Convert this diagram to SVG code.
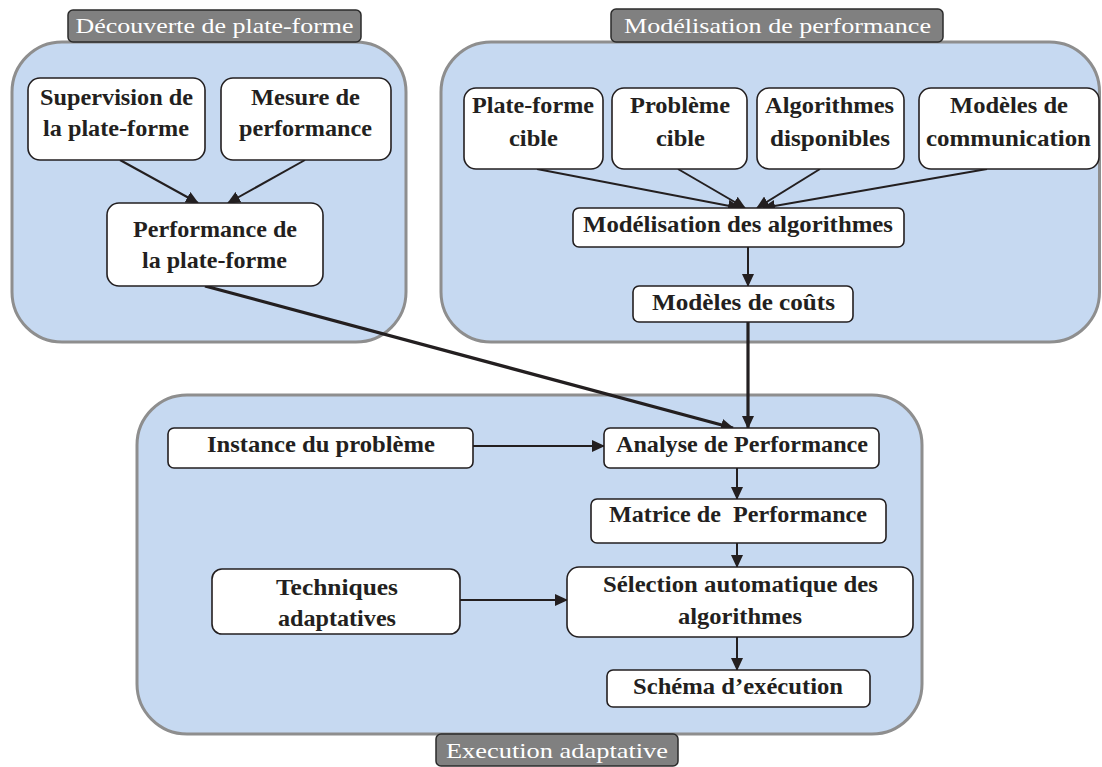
<svg xmlns="http://www.w3.org/2000/svg" width="1102" height="767" viewBox="0 0 1102 767">
<style>
.grp{fill:#c6d9f1;stroke:#8e8e8e;stroke-width:3}
.ttl{fill:#808080;stroke:#2b2b2b;stroke-width:1.5}
.ttxt{font-family:"Liberation Serif","DejaVu Serif",serif;font-size:22px;fill:#ffffff;text-anchor:middle}
.box{fill:#ffffff;stroke:#231f20;stroke-width:1.6}
.t{font-family:"Liberation Serif","DejaVu Serif",serif;font-size:23px;font-weight:bold;fill:#231f20;text-anchor:middle}
.c{fill:none;stroke:#231f20;stroke-width:2}
.ck{fill:none;stroke:#231f20;stroke-width:3.2}
</style>
<defs>
<marker id="ah" markerUnits="userSpaceOnUse" markerWidth="13" markerHeight="12" refX="12" refY="6" orient="auto">
<path d="M0,0 L13,6 L0,12 z" fill="#231f20"/>
</marker>
</defs>

<g id="group-decouverte">
<rect class="grp" x="12" y="42" width="394" height="300" rx="50" ry="50"/>
<rect class="ttl" x="68" y="10" width="293" height="32" rx="5" ry="5"/>
<text class="ttxt" x="214.5" y="33" textLength="278" lengthAdjust="spacingAndGlyphs">Découverte de plate-forme</text>
</g>
<g id="group-modelisation">
<rect class="grp" x="441" y="42" width="658.5" height="300" rx="50" ry="50"/>
<rect class="ttl" x="611" y="9" width="332" height="33" rx="5" ry="5"/>
<text class="ttxt" x="777.5" y="33" textLength="307" lengthAdjust="spacingAndGlyphs">Modélisation de performance</text>
</g>
<g id="group-execution">
<rect class="grp" x="137" y="395" width="785" height="339" rx="50" ry="50"/>
</g>

<g id="connectors">
<line class="c" x1="120" y1="160" x2="198" y2="203" marker-end="url(#ah)"/>
<line class="c" x1="305" y1="160" x2="228" y2="203" marker-end="url(#ah)"/>
<line class="c" x1="537" y1="169" x2="740" y2="208" marker-end="url(#ah)"/>
<line class="c" x1="678" y1="169" x2="745" y2="208" marker-end="url(#ah)"/>
<line class="c" x1="820" y1="169" x2="757" y2="208" marker-end="url(#ah)"/>
<line class="c" x1="987" y1="169" x2="763" y2="208" marker-end="url(#ah)"/>
<line class="c" x1="748" y1="247" x2="748" y2="286" marker-end="url(#ah)"/>
<line class="ck" x1="748" y1="322" x2="748" y2="428" marker-end="url(#ah)"/>
<line class="ck" x1="205" y1="286" x2="733" y2="428" marker-end="url(#ah)"/>
<line class="c" x1="473" y1="446" x2="604" y2="446" marker-end="url(#ah)"/>
<line class="c" x1="737" y1="468" x2="737" y2="499" marker-end="url(#ah)"/>
<line class="c" x1="737" y1="543" x2="737" y2="567" marker-end="url(#ah)"/>
<line class="c" x1="460" y1="600" x2="567" y2="600" marker-end="url(#ah)"/>
<line class="c" x1="737" y1="637" x2="737" y2="670" marker-end="url(#ah)"/>
</g>

<g id="title-execution">
<rect class="ttl" x="436" y="734" width="242" height="32" rx="5" ry="5"/>
<text class="ttxt" x="557" y="758" textLength="222" lengthAdjust="spacingAndGlyphs">Execution adaptative</text>
</g>

<g id="n-supervision">
<rect class="box" x="28" y="78" width="177" height="82" rx="12"/>
<text class="t" x="116.5" y="105" textLength="153" lengthAdjust="spacingAndGlyphs">Supervision de</text>
<text class="t" x="116" y="136" textLength="146" lengthAdjust="spacingAndGlyphs">la plate-forme</text>
</g>
<g id="n-mesure">
<rect class="box" x="221" y="78" width="170" height="82" rx="12"/>
<text class="t" x="305.5" y="105" textLength="109" lengthAdjust="spacingAndGlyphs">Mesure de</text>
<text class="t" x="305.5" y="136" textLength="133" lengthAdjust="spacingAndGlyphs">performance</text>
</g>
<g id="n-perf-plateforme">
<rect class="box" x="107" y="203" width="216" height="83" rx="12"/>
<text class="t" x="215" y="237" textLength="164" lengthAdjust="spacingAndGlyphs">Performance de</text>
<text class="t" x="214.5" y="268" textLength="145" lengthAdjust="spacingAndGlyphs">la plate-forme</text>
</g>

<g id="n-plateforme-cible">
<rect class="box" x="464" y="88" width="139" height="81" rx="12"/>
<text class="t" x="533" y="113" textLength="122" lengthAdjust="spacingAndGlyphs">Plate-forme</text>
<text class="t" x="533.5" y="146" textLength="49" lengthAdjust="spacingAndGlyphs">cible</text>
</g>
<g id="n-probleme-cible">
<rect class="box" x="612" y="88" width="135" height="81" rx="12"/>
<text class="t" x="680" y="113" textLength="100" lengthAdjust="spacingAndGlyphs">Problème</text>
<text class="t" x="680.5" y="146" textLength="49" lengthAdjust="spacingAndGlyphs">cible</text>
</g>
<g id="n-algorithmes">
<rect class="box" x="757" y="88" width="147" height="81" rx="12"/>
<text class="t" x="829.5" y="113" textLength="129" lengthAdjust="spacingAndGlyphs">Algorithmes</text>
<text class="t" x="830" y="146" textLength="120" lengthAdjust="spacingAndGlyphs">disponibles</text>
</g>
<g id="n-modeles-comm">
<rect class="box" x="919" y="88" width="180" height="81" rx="12"/>
<text class="t" x="1009" y="113" textLength="118" lengthAdjust="spacingAndGlyphs">Modèles de</text>
<text class="t" x="1008.5" y="146" textLength="165" lengthAdjust="spacingAndGlyphs">communication</text>
</g>
<g id="n-modelisation-algos">
<rect class="box" x="573" y="208" width="331" height="39" rx="6"/>
<text class="t" x="738" y="232" textLength="310" lengthAdjust="spacingAndGlyphs">Modélisation des algorithmes</text>
</g>
<g id="n-couts">
<rect class="box" x="633" y="286" width="220" height="36" rx="6"/>
<text class="t" x="743.5" y="310" textLength="183" lengthAdjust="spacingAndGlyphs">Modèles de coûts</text>
</g>

<g id="n-instance">
<rect class="box" x="168" y="428" width="305" height="40" rx="6"/>
<text class="t" x="321" y="452" textLength="228" lengthAdjust="spacingAndGlyphs">Instance du problème</text>
</g>
<g id="n-analyse">
<rect class="box" x="604" y="428" width="275" height="40" rx="6"/>
<text class="t" x="742" y="452" textLength="252" lengthAdjust="spacingAndGlyphs">Analyse de Performance</text>
</g>
<g id="n-matrice">
<rect class="box" x="591" y="499" width="295" height="44" rx="6"/>
<text class="t" x="738" y="522" textLength="258" lengthAdjust="spacingAndGlyphs" xml:space="preserve" style="white-space:pre">Matrice de  Performance</text>
</g>
<g id="n-techniques">
<rect class="box" x="212" y="569" width="248" height="65" rx="10"/>
<text class="t" x="337" y="595" textLength="122" lengthAdjust="spacingAndGlyphs">Techniques</text>
<text class="t" x="337" y="626" textLength="118" lengthAdjust="spacingAndGlyphs">adaptatives</text>
</g>
<g id="n-selection">
<rect class="box" x="567" y="567" width="346" height="70" rx="12"/>
<text class="t" x="740.5" y="592" textLength="275" lengthAdjust="spacingAndGlyphs">Sélection automatique des</text>
<text class="t" x="740" y="624" textLength="124" lengthAdjust="spacingAndGlyphs">algorithmes</text>
</g>
<g id="n-schema">
<rect class="box" x="607" y="670" width="263" height="37" rx="6"/>
<text class="t" x="738" y="694" textLength="210" lengthAdjust="spacingAndGlyphs">Schéma d’exécution</text>
</g>
</svg>
